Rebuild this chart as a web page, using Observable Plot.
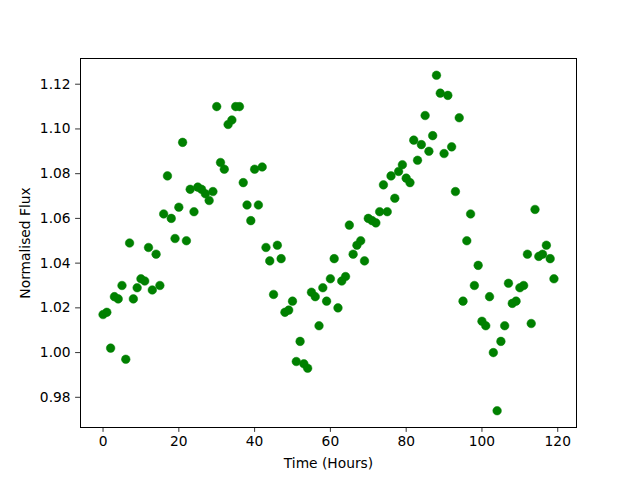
<!DOCTYPE html>
<html>
<head>
<meta charset="utf-8">
<script src="https://cdn.jsdelivr.net/npm/d3@7"></script>
<script src="https://cdn.jsdelivr.net/npm/@observablehq/plot@0.6"></script>
<style>
  html, body { margin: 0; padding: 0; background: #fff; }
  svg { display: block; }
</style>
</head>
<body>
<div id="chart"></div>
<script>
const hours = d3.range(0, 120);
const flux = [
  1.017, 1.018, 1.002, 1.025, 1.024, 1.030, 0.997, 1.049, 1.024, 1.029,
  1.033, 1.032, 1.047, 1.028, 1.044, 1.030, 1.062, 1.079, 1.060, 1.051,
  1.065, 1.094, 1.050, 1.073, 1.063, 1.074, 1.073, 1.071, 1.068, 1.072,
  1.110, 1.085, 1.082, 1.102, 1.104, 1.110, 1.110, 1.076, 1.066, 1.059,
  1.082, 1.066, 1.083, 1.047, 1.041, 1.026, 1.048, 1.042, 1.018, 1.019,
  1.023, 0.996, 1.005, 0.995, 0.993, 1.027, 1.025, 1.012, 1.029, 1.023,
  1.033, 1.042, 1.020, 1.032, 1.034, 1.057, 1.044, 1.048, 1.050, 1.041,
  1.060, 1.059, 1.058, 1.063, 1.075, 1.063, 1.079, 1.069, 1.081, 1.084,
  1.078, 1.076, 1.095, 1.086, 1.093, 1.106, 1.090, 1.097, 1.124, 1.116,
  1.089, 1.115, 1.092, 1.072, 1.105, 1.023, 1.050, 1.062, 1.030, 1.039,
  1.014, 1.012, 1.025, 1.000, 0.974, 1.005, 1.012, 1.031, 1.022, 1.023,
  1.029, 1.030, 1.044, 1.013, 1.064, 1.043, 1.044, 1.048, 1.042, 1.033
];
const xTicks = [0, 20, 40, 60, 80, 100, 120];
const yTicks = [0.98, 1.00, 1.02, 1.04, 1.06, 1.08, 1.10, 1.12];

const data = hours.map((h, i) => ({hour: h, flux: flux[i]}));

function padded(arr) {
  const [a, b] = d3.extent(arr);
  const p = (b - a) * 0.05;
  return [a - p, b + p];
}

const chart = Plot.plot({
  width: 640,
  height: 480,
  marginLeft: 80,
  marginRight: 64,
  marginTop: 58,
  marginBottom: 53,
  style: {fontFamily: "DejaVu Sans", fontSize: "13.8px", color: "#000", background: "#fff"},
  x: {domain: padded(hours)},
  y: {domain: padded(flux)},
  marks: [
    Plot.frame({stroke: "#000", strokeWidth: 1}),
    Plot.axisX({ticks: xTicks, tickFormat: d3.format("d"), tickSize: 4.9, tickPadding: 4,
      label: "Time (Hours)", labelAnchor: "center", labelOffset: 40, labelArrow: "none", strokeWidth: 0.8}),
    Plot.axisY({ticks: yTicks, tickFormat: d3.format(".2f"), tickSize: 4.9, tickPadding: 5,
      label: "Normalised Flux", labelAnchor: "center", labelOffset: 60, labelArrow: "none", strokeWidth: 0.8}),
    Plot.dot(data, {x: "hour", y: "flux", r: 4.3, fill: "#008000", stroke: "#008000", strokeWidth: 0.5})
  ]
});
document.getElementById("chart").appendChild(chart);
</script>
</body>
</html>
